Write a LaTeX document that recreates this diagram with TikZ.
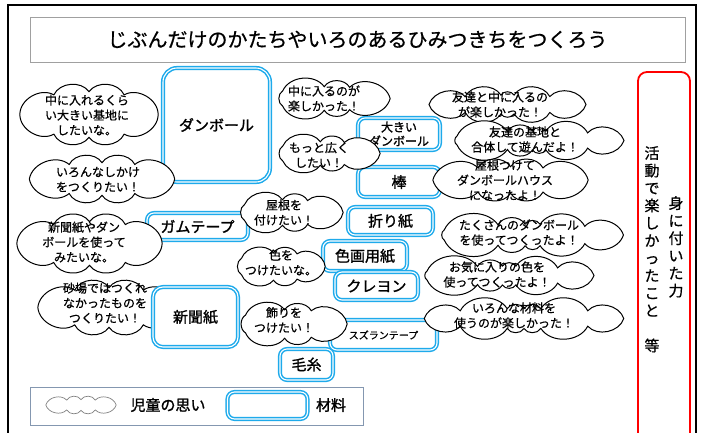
\documentclass[tikz,border=0pt]{standalone}
\usepackage{fontspec}
\newfontfamily\jp{Noto Sans CJK JP}[FakeBold=0.7]
\newfontfamily\jpb{Noto Sans CJK JP}[FakeBold=1.4]
\definecolor{matblue}{RGB}{30,170,235}
\definecolor{titlegray}{RGB}{160,160,160}
\definecolor{legendgray}{RGB}{132,151,176}
% #1 options, #2 name, #3 cx, #4 cy, #5 width, #6 height
\newcommand\puffcloud[6][]{%
  \pgfmathsetmacro\pL{min(38,0.9*#6)}%
  \pgfmathsetmacro\pb{0.255*\pL}%
  \pgfmathsetmacro\prx{#5/2-0.5*\pb}%
  \pgfmathsetmacro\pry{#6/2-\pb}%
  \pgfmathsetmacro\pkk{(\prx/\pry-1)/(2*(\prx/\pry+1))*57.2958}%
  \pgfmathsetmacro\pper{3.1416*(3*(\prx+\pry)-sqrt(3*\prx+\pry)*sqrt(\prx+3*\pry))}%
  \pgfmathtruncatemacro\pnp{max(7,round(\pper/\pL))}%
  \coordinate (#2) at (#3,#4);
  \draw[cloudline,#1] ({#3+\prx},#4) \foreach \i in {1,...,\pnp} { to[bend left=60] ({#3+\prx*cos(\i*360/\pnp+\pkk*sin(2*\i*360/\pnp))},{#4+\pry*sin(\i*360/\pnp+\pkk*sin(2*\i*360/\pnp))}) } -- cycle;
}
\begin{document}
\begin{tikzpicture}[x=1pt,y=-1pt,
  cloudline/.style={draw=black, line width=1pt, fill=white},
  ttext/.style={font=\jp\fontsize{12}{15}\selectfont, align=center, inner sep=0pt},
  matbox/.style={draw=matblue, line width=1.5pt, double=white, double distance=1.1pt, rounded corners=7pt, fill=white, inner sep=0pt, font=\jpb\fontsize{15}{18}\selectfont, align=center},
  vtext/.style={font=\jp\fontsize{15}{17.5}\selectfont, align=center, inner sep=0pt, anchor=north}]
\useasboundingbox (0,0) rectangle (704,432);
\clip (0,0) rectangle (704,432);
% outer frame
\draw[line width=1.5pt] (8,5) rectangle (696,470);
% title
\node[draw=titlegray, line width=1pt, minimum width=655, minimum height=45, inner sep=0pt, font=\jp\fontsize{20}{24}\selectfont] (title) at (357.5,39.5) {じぶんだけのかたちやいろのあるひみつきちをつくろう};
% red box
\draw[red, line width=1.8pt, rounded corners=9pt] (638,72) rectangle (690,480);
\node[vtext] (v1) at (652,146) {活\\動\\で\\楽\\し\\か\\っ\\た\\こ\\と\\　\\等};
\node[vtext] (v2) at (676,196) {身\\に\\付\\い\\た\\力};

% cloud under newspaper box
\puffcloud{cD}{109}{307.5}{152}{59}
\node[ttext] (tD) at (105,303) {砂場ではつくれ\\なかったものを\\つくりたい！};

% materials
\node[matbox, minimum width=107, minimum height=114, rounded corners=14pt] (m1) at (216.5,125) {ダンボール};
\node[matbox, minimum width=82, minimum height=32, font=\jpb\fontsize{12}{14}\selectfont] (m2) at (399,134) {大きい\\ダンボール};
\node[matbox, minimum width=82, minimum height=30] (m3) at (399,182) {棒};
\node[matbox, minimum width=101, minimum height=27] (m4) at (197.5,226.5) {ガムテープ};
\node[matbox, minimum width=85, minimum height=60, rounded corners=10pt] (m5) at (195.5,317) {新聞紙};
\node[matbox, minimum width=85, minimum height=28] (m6) at (390.5,221) {折り紙};
\node[matbox, minimum width=84, minimum height=30] (m7) at (365,256) {色画用紙};
\node[matbox, minimum width=83, minimum height=28] (m8) at (376.5,286) {クレヨン};
\node[matbox, minimum width=107, minimum height=30, font=\jp\fontsize{10}{12}\selectfont] (m9) at (383.5,335) {スズランテープ};
\node[matbox, minimum width=53, minimum height=31] (m10) at (306.5,364.5) {毛糸};

% clouds
\puffcloud{cA}{89}{114.5}{148}{65}
\node[ttext] (tA) at (87,115) {中に入れるくら\\い大きい基地に\\したいな。};
\puffcloud{cB}{102}{179}{155}{52}
\node[ttext] (tB) at (98,179.5) {いろんなしかけ\\をつくりたい！};
\puffcloud{cC}{89.5}{243.5}{155}{63}
\node[ttext] (tC) at (84,242) {新聞紙やダン\\ボールを使って\\みたいな。};
\puffcloud{cE}{329}{98.5}{132}{43}
\node[ttext] (tE) at (324,98.5) {中に入るのが\\楽しかった！};
\puffcloud{cF}{325}{153.5}{120}{43}
\node[ttext] (tF) at (319,155) {もっと広く\\したい！};
\puffcloud{cG}{507.5}{104.5}{165}{35}
\node[ttext] (tG) at (500,104.5) {友達と中に入るの\\が楽しかった！};
\puffcloud{cH}{535}{140.5}{186}{35}
\node[ttext] (tH) at (525,139.5) {友達の基地と\\合体して遊んだよ！};
\puffcloud{cI}{510.5}{180}{165}{46}
\node[ttext] (tI) at (505,180) {屋根つけて\\ダンボールハウス\\になったよ！};
\puffcloud{cJ}{287.5}{212.5}{121}{45}
\node[ttext] (tJ) at (284,212.5) {屋根を\\付けたい！};
\puffcloud{cK}{278.5}{266.5}{103}{47}
\node[ttext] (tK) at (281,262.5) {色を\\つけたいな。};
\puffcloud{cL}{290}{324}{124}{48}
\node[ttext] (tL) at (284,320) {飾りを\\つけたい！};
\puffcloud{cM}{528}{235}{200}{40}
\node[ttext] (tM) at (519,232.5) {たくさんのダンボール\\を使ってつくったよ！};
\puffcloud{cN}{505}{275.5}{186}{35}
\node[ttext] (tN) at (497,274.5) {お気に入りの色を\\使ってつくったよ！};
\puffcloud{cO}{524}{318.5}{208}{37}
\node[ttext] (tO) at (514,315.5) {いろんな材料を\\使うのが楽しかった！};

% legend
\node[draw=legendgray, line width=0.9pt, minimum width=333, minimum height=38, inner sep=0pt] (legend) at (196.5,406) {};
\puffcloud[draw=gray, line width=0.7pt]{lc}{81}{405}{75}{20}
\node[font=\jpb\fontsize{15}{18}\selectfont, inner sep=0pt] (lt1) at (168,405) {児童の思い};
\node[matbox, minimum width=80, minimum height=27] (lb) at (267.5,405.5) {};
\node[font=\jpb\fontsize{15}{18}\selectfont, inner sep=0pt] (lt2) at (331,405) {材料};
\end{tikzpicture}
\end{document}
